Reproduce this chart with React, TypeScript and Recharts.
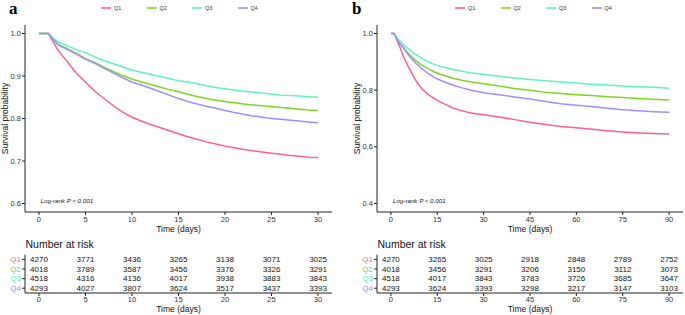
import React from "react";
import {
  LineChart,
  Line,
  XAxis,
  YAxis,
  Legend,
  ScatterChart,
  Scatter,
} from "recharts";

const groups = ["Q1", "Q2", "Q3", "Q4"];
const colors = ["#FF5E90", "#7DD620", "#5EF2C2", "#A08EFF"];

// panel a: 30-day survival
const timesA = [0, 1, 2, 3, 4, 5, 6, 7, 8, 9, 10, 11, 12, 13, 14, 15, 16, 17, 18, 19, 20, 21, 22, 23, 24, 25, 26, 27, 28, 29, 30];
const q1A = [1, 1, 0.962, 0.935, 0.907, 0.886, 0.864, 0.847, 0.830, 0.815, 0.803, 0.794, 0.786, 0.779, 0.771, 0.764, 0.757, 0.751, 0.745, 0.740, 0.735, 0.731, 0.727, 0.724, 0.721, 0.718, 0.716, 0.713, 0.711, 0.709, 0.708];
const q2A = [1, 1, 0.975, 0.965, 0.953, 0.941, 0.932, 0.921, 0.911, 0.901, 0.893, 0.886, 0.880, 0.874, 0.868, 0.863, 0.857, 0.852, 0.847, 0.843, 0.840, 0.837, 0.834, 0.832, 0.830, 0.828, 0.826, 0.824, 0.822, 0.820, 0.819];
const q3A = [1, 1, 0.980, 0.972, 0.962, 0.955, 0.945, 0.936, 0.929, 0.921, 0.914, 0.909, 0.904, 0.899, 0.894, 0.889, 0.886, 0.882, 0.877, 0.873, 0.870, 0.867, 0.864, 0.862, 0.860, 0.857, 0.855, 0.854, 0.853, 0.851, 0.850];
const q4A = [1, 1, 0.974, 0.963, 0.952, 0.939, 0.930, 0.918, 0.907, 0.896, 0.886, 0.879, 0.871, 0.863, 0.855, 0.847, 0.840, 0.834, 0.829, 0.824, 0.819, 0.814, 0.810, 0.806, 0.803, 0.800, 0.798, 0.796, 0.794, 0.792, 0.790];

// panel b: 90-day survival
const timesB = [0, 1, 2, 3, 4, 5, 6, 8, 10, 12, 14, 16, 18, 20, 23, 26, 30, 35, 40, 45, 50, 55, 60, 65, 70, 75, 80, 85, 90];
const q1B = [1, 1, 0.975, 0.950, 0.920, 0.897, 0.875, 0.835, 0.805, 0.785, 0.771, 0.758, 0.748, 0.737, 0.727, 0.719, 0.713, 0.705, 0.696, 0.687, 0.679, 0.672, 0.667, 0.662, 0.657, 0.652, 0.649, 0.647, 0.645];
const q2B = [1, 1, 0.980, 0.965, 0.952, 0.937, 0.926, 0.905, 0.888, 0.876, 0.865, 0.856, 0.849, 0.842, 0.835, 0.829, 0.823, 0.815, 0.806, 0.800, 0.793, 0.788, 0.784, 0.781, 0.777, 0.774, 0.771, 0.768, 0.765];
const q3B = [1, 1, 0.985, 0.973, 0.962, 0.951, 0.942, 0.926, 0.912, 0.901, 0.891, 0.884, 0.879, 0.874, 0.867, 0.861, 0.856, 0.849, 0.843, 0.838, 0.833, 0.829, 0.825, 0.821, 0.818, 0.815, 0.812, 0.810, 0.807];
const q4B = [1, 1, 0.978, 0.962, 0.950, 0.934, 0.920, 0.896, 0.876, 0.860, 0.845, 0.835, 0.826, 0.818, 0.808, 0.800, 0.791, 0.784, 0.776, 0.769, 0.760, 0.752, 0.747, 0.742, 0.736, 0.731, 0.727, 0.724, 0.722];

// number at risk
const riskTimesA = [0, 5, 10, 15, 20, 25, 30];
const riskQ1A = [4270, 3771, 3436, 3265, 3138, 3071, 3025];
const riskQ2A = [4018, 3789, 3587, 3456, 3376, 3326, 3291];
const riskQ3A = [4518, 4316, 4136, 4017, 3938, 3883, 3843];
const riskQ4A = [4293, 4027, 3807, 3624, 3517, 3437, 3393];

const riskTimesB = [0, 15, 30, 45, 60, 75, 90];
const riskQ1B = [4270, 3265, 3025, 2918, 2848, 2789, 2752];
const riskQ2B = [4018, 3456, 3291, 3206, 3150, 3112, 3073];
const riskQ3B = [4518, 4017, 3843, 3783, 3726, 3685, 3647];
const riskQ4B = [4293, 3624, 3393, 3298, 3217, 3147, 3103];

const yTicksA = [0.6, 0.7, 0.8, 0.9, 1.0];
const yTicksB = [0.4, 0.6, 0.8, 1.0];

const FONT = "'Liberation Sans', Arial, sans-serif";
const axisStroke = "#222";
const tickStyle = { fontSize: 7.5, fill: "#333", fontFamily: FONT };

const toRows = (times: number[], series: number[][]) =>
  times.map((t, i) => {
    const row: any = { t };
    groups.forEach((g, k) => (row[g] = series[k][i]));
    return row;
  });

const toRisk = (times: number[], series: number[][]) =>
  series.map((vals, k) => vals.map((n, i) => ({ t: times[i], row: k + 1, n })));

const dataA = toRows(timesA, [q1A, q2A, q3A, q4A]);
const dataB = toRows(timesB, [q1B, q2B, q3B, q4B]);
const riskA = toRisk(riskTimesA, [riskQ1A, riskQ2A, riskQ3A, riskQ4A]);
const riskB = toRisk(riskTimesB, [riskQ1B, riskQ2B, riskQ3B, riskQ4B]);

const LegendContent = ({ payload }: any) => (
  <div style={{ display: "flex", fontFamily: FONT }}>
    {(payload || []).map((e: any) => (
      <div key={e.value} style={{ width: 45.5, display: "flex", alignItems: "center", height: 8 }}>
        <svg width={10} height={4}>
          <line x1={0} x2={10} y1={2} y2={2} stroke={e.color} strokeWidth={1.6} />
        </svg>
        <span style={{ marginLeft: 3, fontSize: 5.5, color: "#333" }}>{e.value}</span>
      </div>
    ))}
  </div>
);

const RiskTick = (props: any) => {
  const i = props.payload.value - 1;
  return (
    <text x={props.x} y={props.y} dy="0.35em" textAnchor="end" fill={colors[i]} fontSize={8} fontFamily={FONT}>
      {groups[i]}
    </text>
  );
};

const RiskText = (props: any) => (
  <text x={props.cx} y={props.cy} dy="0.35em" textAnchor="middle" fontSize={8} fill="#111" fontFamily={FONT}>
    {props.payload.n}
  </text>
);

type PanelProps = {
  left: number;
  width: number;
  yWidth: number;
  right: number;
  data: any[];
  xDomain: [number, number];
  xTicks: number[];
  yDomain: [number, number];
  yTicks: number[];
  risk: any[][];
  legendLeft: number;
  yLabelX: number;
};

const Panel = (p: PanelProps) => (
  <>
    <div style={{ position: "absolute", left: p.left, top: 0 }}>
      <LineChart width={p.width} height={240} data={p.data} margin={{ top: 25, right: p.right, bottom: 0, left: 0 }}>
        <XAxis
          dataKey="t"
          type="number"
          domain={p.xDomain}
          ticks={p.xTicks}
          interval={0}
          allowDataOverflow
          height={28}
          tickSize={3}
          tickMargin={2}
          stroke={axisStroke}
          tick={tickStyle}
          label={{ value: "Time (days)", position: "insideBottom", offset: 8, fontSize: 8.5, fill: "#111", fontFamily: FONT }}
        />
        <YAxis
          type="number"
          domain={p.yDomain}
          ticks={p.yTicks}
          interval={0}
          allowDataOverflow
          width={p.yWidth}
          tickSize={3}
          tickMargin={1}
          stroke={axisStroke}
          tick={tickStyle}
          tickFormatter={(v: number) => v.toFixed(1)}
          label={{ value: "Survival probability", angle: -90, position: "insideLeft", offset: p.yLabelX, fontSize: 8.5, fill: "#111", fontFamily: FONT, textAnchor: "middle" }}
        />
        <Legend
          verticalAlign="top"
          content={<LegendContent />}
          wrapperStyle={{ top: 4, left: p.legendLeft, height: 0, width: 200, overflow: "visible" }}
        />
        {groups.map((g, k) => (
          <Line key={g} dataKey={g} name={g} stroke={colors[k]} strokeWidth={1.5} dot={false} type="linear" isAnimationActive={false} />
        ))}
      </LineChart>
    </div>
    <div style={{ position: "absolute", left: p.left, top: 240 }}>
      <ScatterChart width={p.width} height={75} margin={{ top: 14.6, right: p.right, bottom: 0, left: 0 }}>
        <XAxis
          dataKey="t"
          type="number"
          domain={p.xDomain}
          ticks={p.xTicks}
          interval={0}
          allowDataOverflow
          height={22}
          tickSize={3}
          tickMargin={1}
          stroke={axisStroke}
          tick={tickStyle}
          label={{ value: "Time (days)", position: "insideBottom", offset: 3, fontSize: 8.5, fill: "#111", fontFamily: FONT }}
        />
        <YAxis
          dataKey="row"
          type="number"
          domain={[0.5, 4.5]}
          ticks={[1, 2, 3, 4]}
          interval={0}
          reversed
          width={p.yWidth}
          tickSize={3}
          tickMargin={1}
          stroke={axisStroke}
          tick={<RiskTick />}
        />
        {p.risk.map((rows, k) => (
          <Scatter key={groups[k]} data={rows} shape={<RiskText />} isAnimationActive={false} />
        ))}
      </ScatterChart>
    </div>
  </>
);

export default function App() {
  return (
    <div style={{ position: "absolute", left: 0, top: 0, width: 685, height: 315, background: "#fff", fontFamily: FONT }}>
      <Panel
        left={0}
        width={340}
        yWidth={25}
        right={8}
        data={dataA}
        xDomain={[-1.5, 31.5]}
        xTicks={riskTimesA}
        yDomain={[0.58, 1.02]}
        yTicks={yTicksA}
        risk={riskA}
        legendLeft={101}
        yLabelX={5}
      />
      <Panel
        left={340}
        width={345}
        yWidth={37}
        right={2}
        data={dataB}
        xDomain={[-4.5, 94.5]}
        xTicks={riskTimesB}
        yDomain={[0.37, 1.03]}
        yTicks={yTicksB}
        risk={riskB}
        legendLeft={115}
        yLabelX={17}
      />
      <svg width={685} height={315} style={{ position: "absolute", left: 0, top: 0, pointerEvents: "none" }}>
        <text x={9} y={13.5} fontSize={17} fontWeight="bold" fontFamily="'Liberation Serif', 'DejaVu Serif', serif">a</text>
        <text x={352} y={13.5} fontSize={17} fontWeight="bold" fontFamily="'Liberation Serif', 'DejaVu Serif', serif">b</text>
        <text x={40.5} y={201} dy="0.35em" fontSize={6.2} fontStyle="italic" fill="#111" fontFamily={FONT}>Log-rank P &lt; 0.001</text>
        <text x={393} y={201} dy="0.35em" fontSize={6.2} fontStyle="italic" fill="#111" fontFamily={FONT}>Log-rank P &lt; 0.001</text>
        <text x={25.5} y={244} dy="0.35em" fontSize={10.5} fill="#111" fontFamily={FONT}>Number at risk</text>
        <text x={377.5} y={244} dy="0.35em" fontSize={10.5} fill="#111" fontFamily={FONT}>Number at risk</text>
      </svg>
    </div>
  );
}
